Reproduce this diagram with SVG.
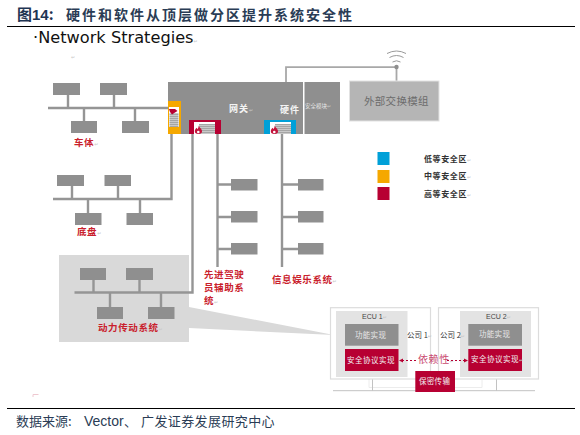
<svg xmlns="http://www.w3.org/2000/svg" width="580" height="435" viewBox="0 0 580 435">
<style>
text{font-family:"Noto Sans CJK SC","Liberation Sans",sans-serif}
.b{fill:#8f8f8f}
.w{stroke:#959595;stroke-width:2.4;fill:none}
.r{fill:#c9202c;font-size:9.5px;font-weight:700;letter-spacing:.6px}
.m{fill:#c8c8c8;font-family:"DejaVu Sans",sans-serif;font-size:5px;font-weight:400;letter-spacing:0}
.d{fill:#333;font-size:8px;font-weight:700;letter-spacing:.6px}
.wt{fill:#f4f4f4;font-weight:700}
.red{fill:#b70032}
.ig{fill:#e3e3e3}
.fg{fill:#8f8f8f}
.ol{fill:#fff;stroke:#dcdcdc;stroke-width:1.2}
</style>
<defs>
<pattern id="h" width="3" height="2" patternUnits="userSpaceOnUse"><rect width="3" height="2" fill="#c9c9c9"/><rect width="3" height="1" fill="#a5a5a5"/></pattern>
<g id="fw"><rect x="0" y="0" width="21" height="12" fill="#fff"/><rect x="5" y="2" width="16" height="10" fill="url(#h)"/><path d="M4.500 3.500C5.500 6 8 6.500 8 9.500C8 11 7 12 4.500 12C2 12 .8 11 .8 9.300C.8 7.500 2 7 2.300 5.800C3 6.300 3.300 6.800 3.500 7.300C4.200 6 4.800 5 4.500 3.500Z" fill="#c3143c"/><circle cx="4.300" cy="10" r="1.300" fill="#fff"/></g>
</defs>
<g id="header">
<text x="17" y="20" font-size="15" font-weight="700" fill="#1f3553">图<tspan font-family="Liberation Sans">14</tspan>:</text>
<text x="66" y="20" font-size="14" font-weight="700" fill="#2a3c55" letter-spacing="2">硬件和软件从顶层做分区提升系统安全性</text>
<path d="M7 26.500H575" stroke="#000" stroke-width="1.200"/>
<text x="33" y="43" font-size="16.200" fill="#111" style="font-family:'DejaVu Sans',sans-serif">·Network Strategies<tspan class="m">↵</tspan></text>
<text x="71" y="59" class="m">↵</text>
<path d="M33 397V394.500H38.500" stroke="#eec8d0" fill="none"/>
</g>
<g id="connectors">
<rect x="59" y="255" width="130" height="87" fill="#d9d9d9"/>
<path d="M189 307L334 335L189 328Z" fill="#d9d9d9"/>
<path class="w" d="M48 108H168M68 95V108M114 95V108M84 108V121M135 108V121"/>
<path class="w" d="M171.500 134V199H53M72 186V199M118 186V199M88 199V213M140 199V213"/>
<path class="w" d="M192.500 134V292.500H74.500M93.500 280V292.500M139.500 280V292.500M110 292.500V307M161 292.500V307"/>
<path class="w" d="M217.500 134V267M217.500 184.500H231M217.500 217H231M217.500 249H231"/>
<path class="w" d="M282 134V267M282 184.500H298M282 217H298M282 249H298"/>
<path d="M286 82V67.200H396.500V81" stroke="#a8a8a8" stroke-width="1.800" fill="none"/>
<circle cx="396.500" cy="67" r="2.200" fill="#8f8f8f"/>
<path d="M392.500 62Q396.500 59.500 400.500 62M389.500 57.500Q396.500 53.500 403.500 57.500M387 53.500Q396.500 48.500 406 53.500" stroke="#9a9a9a" fill="none"/>
</g>
<g id="gateway">
<rect x="168" y="82" width="135" height="52" class="b"/>
<rect x="168" y="101" width="13" height="33" fill="#f5a800"/>
<rect x="169" y="107" width="10" height="20" fill="#fff"/>
<rect x="169.500" y="113" width="9" height="14" fill="url(#h)"/>
<path d="M169 109H175L177.500 111L175 112.500L172 114.500L170 112Z" fill="#b70032"/>
<rect x="189" y="120" width="32" height="14" class="red"/>
<use href="#fw" x="194" y="122"/>
<rect x="264" y="120" width="32" height="14" fill="#00a0d8"/>
<use href="#fw" x="270" y="122"/>
<text x="229" y="112" font-size="9" class="wt" letter-spacing="1">网关<tspan class="m">↵</tspan></text>
<text x="280" y="113" font-size="9" class="wt" letter-spacing="1">硬件</text>
</g>
<g id="security-module">
<rect x="304.500" y="82" width="35.500" height="52" class="b"/>
<text x="305" y="108" font-size="5.500" fill="#e8e8e8">安全模块<tspan class="m">↵</tspan></text>
</g>
<g id="external-module">
<rect x="349.500" y="81" width="89.500" height="40" fill="#b5b5b5" stroke="#e2e2e2"/>
<text x="364" y="105" font-size="10.500" fill="#6c6c6c" letter-spacing=".3">外部交换模组</text>
</g>
<g id="body">
<rect x="53" y="83" width="27" height="12" class="b"/><rect x="100" y="83" width="27" height="12" class="b"/>
<rect x="71" y="121" width="26" height="12" class="b"/><rect x="122" y="121" width="27" height="12" class="b"/>
<text x="74" y="146" class="r">车体<tspan class="m">↵</tspan></text>
</g>
<g id="chassis">
<rect x="57" y="175" width="27" height="11" class="b"/><rect x="104.500" y="175" width="26.500" height="11" class="b"/>
<rect x="75" y="213" width="26.500" height="12" class="b"/><rect x="126.500" y="213" width="26.500" height="12" class="b"/>
<text x="77" y="235" class="r">底盘<tspan class="m">↵</tspan></text>
</g>
<g id="powertrain">
<rect x="80" y="268" width="26" height="12" class="b"/><rect x="126" y="268" width="27" height="12" class="b"/>
<rect x="97" y="307" width="26" height="12" class="b"/><rect x="148" y="307" width="26.500" height="12" class="b"/>
<text x="98" y="331" class="r">动力传动系统<tspan class="m">↵</tspan></text>
</g>
<g id="adas">
<rect x="231" y="179" width="26.500" height="11.500" class="b"/><rect x="231" y="211" width="26.500" height="11.500" class="b"/><rect x="231" y="243" width="26.500" height="11.500" class="b"/>
<text class="r"><tspan x="204" y="278">先进驾驶</tspan><tspan x="204" y="291">员辅助系</tspan><tspan x="204" y="304">统</tspan><tspan class="m">↵</tspan></text>
</g>
<g id="infotainment">
<rect x="298" y="179" width="25.500" height="11.500" class="b"/><rect x="298" y="211" width="25.500" height="11.500" class="b"/><rect x="298" y="243" width="25.500" height="11.500" class="b"/>
<text x="272" y="283" class="r">信息娱乐系统<tspan class="m">↵</tspan></text>
</g>
<g id="legend">
<rect x="377.500" y="152" width="12" height="13" fill="#00a0d8"/>
<rect x="377.500" y="170" width="12" height="13" fill="#f5a800"/>
<rect x="377.500" y="187" width="12" height="13" fill="#b70032"/>
<text x="424" y="162" class="d">低等安全区<tspan class="m">↵</tspan></text>
<text x="424" y="179" class="d">中等安全区<tspan class="m">↵</tspan></text>
<text x="424" y="197" class="d">高等安全区<tspan class="m">↵</tspan></text>
</g>
<g id="ecu-bus">
<path d="M369 379V387.500H482V380" stroke="#ececec" fill="none"/>
<path d="M333 390.700H535M372.500 379V390.700M496.500 379V390.700" stroke="#c2c2c2" fill="none"/>
</g>
<g id="ecu1">
<rect x="330.500" y="307.700" width="100" height="71.300" class="ol"/>
<rect x="336" y="311" width="71.500" height="66" class="ig"/>
<text x="362" y="319" font-size="7" fill="#444" style="font-family:'Liberation Sans',sans-serif">ECU 1<tspan class="m">↵</tspan></text>
<rect x="345" y="324" width="53.500" height="21.700" class="fg"/>
<text x="355" y="338" font-size="7.500" fill="#e8e8e8" letter-spacing=".3">功能实现</text>
<rect x="345" y="349" width="53.500" height="22" class="red"/>
<text x="347" y="363" font-size="7.500" fill="#f2f2f2" letter-spacing=".5">安全协议实现</text>
</g>
<g id="ecu2">
<rect x="438.500" y="307.700" width="100" height="71.300" class="ol"/>
<rect x="460" y="311" width="71" height="66" class="ig"/>
<text x="486" y="319" font-size="7" fill="#444" style="font-family:'Liberation Sans',sans-serif">ECU 2<tspan class="m">↵</tspan></text>
<rect x="468.300" y="324" width="53.700" height="21.700" class="fg"/>
<text x="479" y="337" font-size="7.500" fill="#e8e8e8" letter-spacing=".3">功能实现</text>
<rect x="468.300" y="349" width="53.700" height="22" class="red"/>
<text x="471" y="362" font-size="7.500" fill="#f2f2f2" letter-spacing=".5">安全协议实现<tspan class="m">↵</tspan></text>
</g>
<g id="labels">
<text x="407" y="338" font-size="7.500" fill="#333">公司 1<tspan class="m">↵</tspan></text>
<text x="440" y="338" font-size="7.500" fill="#333">公司 2<tspan class="m">↵</tspan></text>
<text x="418" y="363" font-size="10" fill="#c9496e" letter-spacing=".6">依赖性<tspan class="m">↵</tspan></text>
<path d="M402 360.500H416M447 360.500H465" stroke="#b70032" stroke-dasharray="2 2" fill="none"/>
<path d="M399 360.500L403 358.500V362.500ZM468 360.500L464 358.500V362.500Z" fill="#b70032"/>
</g>
<g id="secure-transfer">
<rect x="415.300" y="371" width="39.700" height="21" class="red"/>
<text x="419" y="384" font-size="7.500" fill="#f2f2f2" letter-spacing=".3">保密传输</text>
</g>
<g id="footer">
<path d="M7 408.500H575" stroke="#000" stroke-width="1.200"/>
<text x="16" y="426" font-size="13" fill="#2a3c55">数据来源:<tspan font-family="Liberation Sans" font-size="14" x="84">Vector</tspan><tspan x="124">、</tspan><tspan x="141" letter-spacing=".4">广发证券发展研究中心</tspan></text>
</g>
</svg>
